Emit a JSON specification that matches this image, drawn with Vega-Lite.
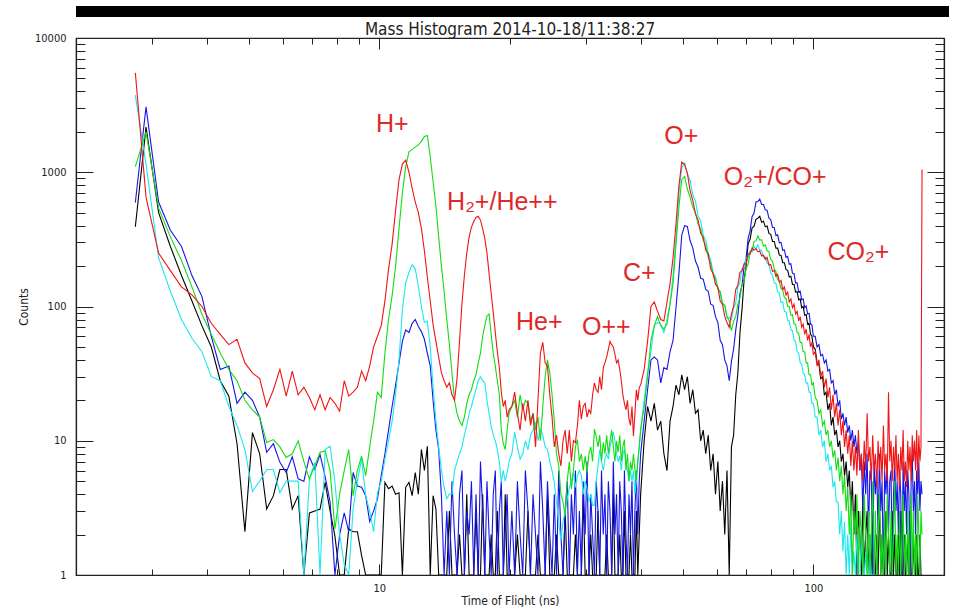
{
  "$schema": "https://vega.github.io/schema/vega-lite/v6.json",
  "background": "#ffffff",
  "padding": {"left": 16, "top": 6, "right": 0, "bottom": 0},
  "spacing": 3,
  "config": {
    "font": "DejaVu Sans Condensed",
    "view": {"stroke": "#222222", "strokeWidth": 1.2},
    "axis": {
      "grid": false,
      "domainColor": "#222222",
      "domainWidth": 1.2,
      "tickColor": "#222222",
      "tickWidth": 1,
      "labelColor": "#222222",
      "titleColor": "#222222",
      "labelFont": "DejaVu Sans Condensed",
      "titleFont": "DejaVu Sans Condensed",
      "titleFontWeight": "normal",
      "labelOverlap": false,
      "labelBound": false,
      "labelFlush": false
    },
    "title": {"font": "DejaVu Sans Condensed", "fontWeight": "normal", "color": "#222222"}
  },
  "datasets": {
    "tof": [
      {"t":2.74,"r":5500,"g":1100,"b":595,"k":393,"c":3750},
      {"t":2.9,"r":650,"g":2000,"b":3070,"k":2170,"c":1150},
      {"t":3.1,"r":250,"g":540,"b":600,"k":500,"c":230},
      {"t":3.3,"r":185,"g":330,"b":370,"k":280,"c":130},
      {"t":3.5,"r":140,"g":220,"b":280,"k":170,"c":80},
      {"t":3.7,"r":122,"g":140,"b":170,"k":110,"c":58},
      {"t":3.9,"r":100,"g":88,"b":119,"k":72,"c":46},
      {"t":4.1,"r":75,"g":62,"b":60,"k":50,"c":30},
      {"t":4.3,"r":62,"g":45,"b":34,"k":28,"c":28},
      {"t":4.5,"r":52,"g":34,"b":36,"k":21.5,"c":18},
      {"t":4.7,"r":57,"g":28,"b":19,"k":9.5,"c":13},
      {"t":4.9,"r":38,"g":20,"b":23,"k":2.1,"c":8.6},
      {"t":5.1,"r":32,"g":17,"b":20,"k":11.5,"c":4.2},
      {"t":5.3,"r":29,"g":15,"b":15,"k":8,"c":5},
      {"t":5.5,"r":18,"g":9.7,"b":8.2,"k":3.1,"c":6.1},
      {"t":5.7,"r":24,"g":10.2,"b":9.5,"k":3.9,"c":6.1},
      {"t":5.9,"r":34,"g":9,"b":6.9,"k":6.1,"c":4.1},
      {"t":6.1,"r":21.5,"g":7.5,"b":5.8,"k":6.1,"c":5},
      {"t":6.3,"r":33,"g":8,"b":7.6,"k":3.1,"c":5},
      {"t":6.5,"r":22,"g":10,"b":5.2,"k":3.9,"c":5},
      {"t":6.7,"r":25,"g":7,"b":5,"k":1,"c":1},
      {"t":6.9,"r":21,"g":5.2,"b":7.6,"k":2.9,"c":5.2},
      {"t":7.1,"r":17,"g":6.5,"b":6.1,"k":3,"c":6.9},
      {"t":7.3,"r":22,"g":8.2,"b":7.9,"k":3.1,"c":1},
      {"t":7.5,"r":17,"g":8.4,"b":5.4,"k":4.9,"c":8.6},
      {"t":7.7,"r":21,"g":6,"b":3.5,"k":3,"c":9.1},
      {"t":7.9,"r":19,"g":2.2,"b":1,"k":1.95,"c":4.9},
      {"t":8.1,"r":16.6,"g":4,"b":2,"k":1,"c":2},
      {"t":8.3,"r":28,"g":6,"b":2.9,"k":1,"c":1.2},
      {"t":8.5,"r":21.5,"g":8.6,"b":2.1,"k":2.2,"c":1},
      {"t":8.7,"r":23,"g":3.9,"b":5.8,"k":2.1,"c":3.1},
      {"t":8.9,"r":25,"g":6,"b":4.6,"k":2.1,"c":5},
      {"t":9.1,"r":33,"g":7.7,"b":4.5,"k":1.4,"c":7.3},
      {"t":9.3,"r":28,"g":5.5,"b":3.9,"k":1,"c":3.9},
      {"t":9.5,"r":36,"g":9,"b":2.5,"k":1,"c":3},
      {"t":9.7,"r":50,"g":14,"b":3,"k":1,"c":2.1},
      {"t":9.9,"r":60,"g":23,"b":3.7,"k":1,"c":4.1},
      {"t":10.1,"r":72,"g":21,"b":5.5,"k":1,"c":5},
      {"t":10.3,"r":110,"g":45,"b":8,"k":4.9,"c":7.3},
      {"t":10.5,"r":190,"g":80,"b":12,"k":4.4,"c":10},
      {"t":10.7,"r":290,"g":120,"b":18,"k":4.6,"c":14},
      {"t":10.9,"r":520,"g":200,"b":26,"k":4,"c":22},
      {"t":11.1,"r":880,"g":380,"b":38,"k":4.1,"c":40},
      {"t":11.3,"r":1150,"g":700,"b":55,"k":1,"c":95},
      {"t":11.5,"r":1230,"g":1100,"b":67,"k":4.5,"c":150},
      {"t":11.7,"r":1000,"g":1420,"b":64,"k":4.9,"c":180},
      {"t":11.9,"r":760,"g":1480,"b":75,"k":3.9,"c":205},
      {"t":12.1,"r":600,"g":1540,"b":80,"k":5.8,"c":190},
      {"t":12.3,"r":500,"g":1600,"b":71,"k":4,"c":141},
      {"t":12.5,"r":380,"g":1700,"b":65,"k":8.6,"c":100},
      {"t":12.7,"r":260,"g":1850,"b":57,"k":6,"c":76},
      {"t":12.9,"r":165,"g":1880,"b":45,"k":9.1,"c":78},
      {"t":13.1,"r":110,"g":1300,"b":36,"k":1,"c":50},
      {"t":13.3,"r":73,"g":850,"b":20,"k":3.9,"c":25},
      {"t":13.5,"r":55,"g":560,"b":12,"k":3.1,"c":14},
      {"t":13.7,"r":42,"g":330,"b":8.6,"k":1,"c":9},
      {"t":13.9,"r":32,"g":200,"b":3.9,"k":1,"c":6},
      {"t":14.1,"r":28,"g":130,"b":1,"k":1,"c":4.5},
      {"t":14.3,"r":25,"g":80,"b":3,"k":1,"c":3.7},
      {"t":14.5,"r":27,"g":52,"b":1,"k":3,"c":4},
      {"t":14.7,"r":22,"g":32,"b":5,"k":1,"c":4},
      {"t":14.9,"r":20,"g":20,"b":2,"k":1,"c":6},
      {"t":15.1,"r":29,"g":16,"b":1,"k":1,"c":7},
      {"t":15.3,"r":55,"g":14,"b":4,"k":2,"c":8},
      {"t":15.5,"r":105,"g":13,"b":6,"k":1,"c":9},
      {"t":15.7,"r":170,"g":15,"b":1,"k":1,"c":11},
      {"t":15.9,"r":250,"g":19,"b":3,"k":4,"c":13},
      {"t":16.1,"r":330,"g":22,"b":2,"k":1,"c":16},
      {"t":16.3,"r":390,"g":24,"b":5,"k":1,"c":18},
      {"t":16.5,"r":430,"g":28,"b":1,"k":1,"c":21},
      {"t":16.7,"r":460,"g":31,"b":4,"k":3,"c":24},
      {"t":16.9,"r":470,"g":38,"b":1,"k":1,"c":28},
      {"t":17.1,"r":440,"g":45,"b":7,"k":1,"c":30},
      {"t":17.3,"r":380,"g":60,"b":3,"k":4,"c":28},
      {"t":17.5,"r":320,"g":72,"b":1,"k":1,"c":27},
      {"t":17.7,"r":250,"g":85,"b":5,"k":1,"c":20},
      {"t":17.9,"r":175,"g":88,"b":2,"k":1,"c":16},
      {"t":18.1,"r":125,"g":62,"b":1,"k":2,"c":12.8},
      {"t":18.3,"r":90,"g":45,"b":4,"k":1,"c":11},
      {"t":18.5,"r":64,"g":36,"b":6,"k":1,"c":10},
      {"t":18.7,"r":46,"g":28,"b":1,"k":3,"c":8.6},
      {"t":18.9,"r":35,"g":22,"b":3,"k":1,"c":7},
      {"t":19.1,"r":23,"g":12,"b":5,"k":1,"c":4.9},
      {"t":19.3,"r":18,"g":9.5,"b":1,"k":1,"c":6},
      {"t":19.5,"r":20,"g":8.6,"b":2,"k":4,"c":5},
      {"t":19.7,"r":15,"g":12,"b":4,"k":1,"c":5.8},
      {"t":19.9,"r":17,"g":16,"b":1,"k":1,"c":7},
      {"t":20.2,"r":18,"g":18,"b":3,"k":1,"c":8},
      {"t":20.5,"r":23,"g":20,"b":1,"k":1,"c":11.6},
      {"t":20.8,"r":16,"g":15,"b":5,"k":2,"c":9},
      {"t":21.1,"r":12,"g":22,"b":2,"k":1,"c":7.3},
      {"t":21.4,"r":19,"g":17,"b":1,"k":1,"c":8},
      {"t":21.7,"r":14,"g":20,"b":6,"k":1,"c":10},
      {"t":22.0,"r":20,"g":19,"b":3,"k":3,"c":8.6},
      {"t":22.3,"r":13,"g":14,"b":1,"k":1,"c":11},
      {"t":22.6,"r":16,"g":16,"b":4,"k":1,"c":12},
      {"t":22.9,"r":9,"g":12,"b":2,"k":1,"c":13.7},
      {"t":23.2,"r":20,"g":15,"b":1,"k":2,"c":10},
      {"t":23.5,"r":45,"g":10,"b":7,"k":1,"c":12.2},
      {"t":23.8,"r":54,"g":18,"b":3,"k":1,"c":11},
      {"t":24.1,"r":38,"g":30,"b":1,"k":1,"c":9},
      {"t":24.4,"r":36,"g":40,"b":5,"k":4,"c":8.6},
      {"t":24.7,"r":22,"g":32,"b":2,"k":1,"c":7},
      {"t":25.0,"r":15,"g":22,"b":1,"k":1,"c":6},
      {"t":25.3,"r":9,"g":14,"b":4,"k":1,"c":4.9},
      {"t":25.6,"r":11,"g":8,"b":1,"k":2,"c":3.5},
      {"t":25.9,"r":8,"g":6.5,"b":6,"k":1,"c":2.5},
      {"t":26.2,"r":6.5,"g":4,"b":2,"k":1,"c":1.8},
      {"t":26.5,"r":10,"g":3.5,"b":1,"k":1,"c":2.5},
      {"t":26.8,"r":12,"g":2.75,"b":3,"k":3,"c":3},
      {"t":27.1,"r":8,"g":5,"b":5,"k":1,"c":3.7},
      {"t":27.4,"r":12,"g":7,"b":1,"k":1,"c":4.5},
      {"t":27.7,"r":7,"g":4.4,"b":4,"k":1,"c":5},
      {"t":28.0,"r":10,"g":6,"b":2,"k":1,"c":5.8},
      {"t":28.3,"r":9.7,"g":9,"b":6,"k":2,"c":4.5},
      {"t":28.6,"r":13,"g":10.2,"b":1,"k":1,"c":5.5},
      {"t":28.9,"r":20,"g":7,"b":3,"k":1,"c":6},
      {"t":29.2,"r":14.5,"g":8,"b":1,"k":1,"c":5.5},
      {"t":29.5,"r":18,"g":6,"b":5,"k":4,"c":4},
      {"t":29.8,"r":19,"g":7.7,"b":2,"k":1,"c":5},
      {"t":30.1,"r":15,"g":5.8,"b":7,"k":1,"c":4.4},
      {"t":30.4,"r":17,"g":8,"b":1,"k":1,"c":3.5},
      {"t":30.7,"r":16,"g":9,"b":4,"k":2,"c":4},
      {"t":31.0,"r":22,"g":7,"b":2,"k":1,"c":3.3},
      {"t":31.3,"r":27,"g":12.2,"b":1,"k":1,"c":3.3},
      {"t":31.6,"r":24,"g":10.8,"b":5,"k":1,"c":5},
      {"t":31.9,"r":23,"g":9,"b":3,"k":3,"c":6.5},
      {"t":32.2,"r":30,"g":11,"b":1,"k":1,"c":8.6},
      {"t":32.5,"r":24,"g":7,"b":6,"k":1,"c":7},
      {"t":32.8,"r":35,"g":9.7,"b":2,"k":1,"c":6},
      {"t":33.1,"r":38,"g":8,"b":4,"k":1,"c":7.3},
      {"t":33.4,"r":42,"g":11,"b":1,"k":2,"c":8},
      {"t":33.7,"r":48,"g":8,"b":5,"k":1,"c":7.3},
      {"t":34.0,"r":55,"g":10,"b":3,"k":1,"c":9},
      {"t":34.3,"r":52,"g":12,"b":1,"k":1,"c":10},
      {"t":34.6,"r":50,"g":9,"b":7,"k":4,"c":11.6},
      {"t":34.9,"r":44,"g":7,"b":2,"k":1,"c":10},
      {"t":35.2,"r":38,"g":10,"b":4,"k":1,"c":8},
      {"t":35.5,"r":40,"g":8.2,"b":1,"k":1,"c":7},
      {"t":35.8,"r":34,"g":11,"b":5,"k":2,"c":7.7},
      {"t":36.1,"r":28,"g":7,"b":3,"k":1,"c":6},
      {"t":36.4,"r":22,"g":9,"b":1,"k":1,"c":8},
      {"t":36.7,"r":19,"g":10.2,"b":6,"k":3,"c":8.6},
      {"t":37.0,"r":17,"g":6,"b":2,"k":1,"c":7},
      {"t":37.3,"r":20,"g":8,"b":1,"k":1,"c":6},
      {"t":37.6,"r":14.5,"g":5,"b":4,"k":1,"c":5},
      {"t":37.9,"r":13,"g":7,"b":2,"k":2,"c":6},
      {"t":38.2,"r":18,"g":6,"b":5,"k":1,"c":5},
      {"t":38.5,"r":10.8,"g":8,"b":1,"k":1,"c":6},
      {"t":38.8,"r":16,"g":6.1,"b":3,"k":1,"c":4},
      {"t":39.1,"r":24,"g":5,"b":6,"k":3,"c":5},
      {"t":39.4,"r":20,"g":7,"b":2,"k":1,"c":7},
      {"t":39.7,"r":25,"g":9,"b":5,"k":2,"c":9},
      {"t":40.0,"r":26,"g":12,"b":8,"k":4,"c":12},
      {"t":40.75,"r":34,"g":18,"b":14,"k":10,"c":20},
      {"t":41.5,"r":55,"g":30,"b":24,"k":18,"c":32},
      {"t":42.25,"r":100,"g":56,"b":40,"k":14,"c":46},
      {"t":43.0,"r":108,"g":72,"b":42,"k":19,"c":72},
      {"t":43.75,"r":92,"g":84,"b":40,"k":12,"c":76},
      {"t":44.5,"r":80,"g":72,"b":27,"k":14,"c":74},
      {"t":45.25,"r":78,"g":68,"b":35,"k":8,"c":64},
      {"t":46.0,"r":108,"g":74,"b":34,"k":6,"c":80},
      {"t":46.75,"r":148,"g":104,"b":46,"k":14,"c":106},
      {"t":47.5,"r":230,"g":148,"b":56,"k":18,"c":170},
      {"t":48.25,"r":410,"g":290,"b":98,"k":26,"c":320},
      {"t":49.0,"r":790,"g":550,"b":175,"k":22,"c":700},
      {"t":49.75,"r":1190,"g":880,"b":340,"k":31,"c":1080},
      {"t":50.5,"r":1140,"g":930,"b":400,"k":24,"c":1170},
      {"t":51.25,"r":980,"g":750,"b":395,"k":30,"c":980},
      {"t":52.0,"r":730,"g":650,"b":310,"k":19,"c":870},
      {"t":52.75,"r":615,"g":550,"b":272,"k":24,"c":680},
      {"t":53.5,"r":490,"g":500,"b":218,"k":16,"c":610},
      {"t":54.25,"r":440,"g":410,"b":196,"k":17,"c":470},
      {"t":55.0,"r":350,"g":380,"b":162,"k":10,"c":435},
      {"t":55.75,"r":330,"g":310,"b":160,"k":12,"c":340},
      {"t":56.5,"r":262,"g":285,"b":134,"k":8,"c":310},
      {"t":57.25,"r":248,"g":232,"b":130,"k":11,"c":250},
      {"t":58.0,"r":190,"g":210,"b":104,"k":6,"c":222},
      {"t":58.75,"r":176,"g":174,"b":102,"k":8,"c":178},
      {"t":59.5,"r":146,"g":162,"b":84,"k":4,"c":166},
      {"t":60.25,"r":140,"g":134,"b":76,"k":7,"c":136},
      {"t":61.0,"r":110,"g":128,"b":56,"k":3,"c":130},
      {"t":61.75,"r":104,"g":106,"b":52,"k":5,"c":104},
      {"t":62.5,"r":84,"g":102,"b":40,"k":2,"c":102},
      {"t":63.25,"r":76,"g":84,"b":36,"k":6,"c":82},
      {"t":64.0,"r":70,"g":78,"b":28,"k":1,"c":83},
      {"t":64.75,"r":88,"g":66,"b":39,"k":9,"c":80},
      {"t":65.5,"r":100,"g":78,"b":48,"k":11,"c":98},
      {"t":66.25,"r":134,"g":84,"b":67,"k":22,"c":106},
      {"t":67.0,"r":144,"g":104,"b":86,"k":32,"c":140},
      {"t":67.75,"r":180,"g":116,"b":125,"k":64,"c":152},
      {"t":68.5,"r":184,"g":146,"b":144,"k":96,"c":192},
      {"t":69.25,"r":208,"g":154,"b":198,"k":158,"c":196},
      {"t":70.0,"r":206,"g":192,"b":230,"k":200,"c":232},
      {"t":70.75,"r":248,"g":206,"b":322,"k":292,"c":230},
      {"t":71.5,"r":246,"g":254,"b":368,"k":318,"c":262},
      {"t":72.25,"r":272,"g":262,"b":468,"k":385,"c":255},
      {"t":73.0,"r":262,"g":305,"b":495,"k":395,"c":280},
      {"t":73.75,"r":270,"g":308,"b":600,"k":445,"c":268},
      {"t":74.5,"r":256,"g":335,"b":605,"k":455,"c":288},
      {"t":75.25,"r":258,"g":312,"b":630,"k":470,"c":262},
      {"t":76.0,"r":238,"g":315,"b":575,"k":425,"c":262},
      {"t":76.75,"r":242,"g":282,"b":575,"k":432,"c":232},
      {"t":77.5,"r":224,"g":288,"b":525,"k":392,"c":235},
      {"t":78.25,"r":232,"g":260,"b":520,"k":398,"c":210},
      {"t":79.0,"r":204,"g":256,"b":455,"k":350,"c":206},
      {"t":79.75,"r":206,"g":224,"b":445,"k":345,"c":176},
      {"t":80.5,"r":182,"g":218,"b":388,"k":305,"c":172},
      {"t":81.25,"r":186,"g":190,"b":388,"k":305,"c":150},
      {"t":82.0,"r":168,"g":182,"b":338,"k":272,"c":148},
      {"t":82.75,"r":174,"g":158,"b":342,"k":272,"c":128},
      {"t":83.5,"r":152,"g":154,"b":298,"k":242,"c":126},
      {"t":84.25,"r":156,"g":136,"b":300,"k":240,"c":107},
      {"t":85.0,"r":134,"g":133,"b":262,"k":212,"c":108},
      {"t":85.75,"r":140,"g":116,"b":264,"k":212,"c":92},
      {"t":86.5,"r":122,"g":115,"b":232,"k":188,"c":91},
      {"t":87.25,"r":128,"g":100,"b":236,"k":186,"c":79},
      {"t":88.0,"r":108,"g":100,"b":206,"k":166,"c":78},
      {"t":88.75,"r":114,"g":86,"b":208,"k":168,"c":67},
      {"t":89.5,"r":98,"g":87,"b":177,"k":146,"c":66},
      {"t":90.25,"r":104,"g":74,"b":176,"k":146,"c":56},
      {"t":91.0,"r":88,"g":74,"b":150,"k":128,"c":55},
      {"t":91.75,"r":92,"g":64,"b":150,"k":129,"c":46},
      {"t":92.5,"r":78,"g":63,"b":128,"k":112,"c":45},
      {"t":93.25,"r":84,"g":54,"b":130,"k":114,"c":38},
      {"t":94.0,"r":70,"g":54,"b":112,"k":98,"c":37},
      {"t":94.75,"r":74,"g":46,"b":114,"k":100,"c":32},
      {"t":95.5,"r":62,"g":46,"b":98,"k":86,"c":31},
      {"t":96.25,"r":68,"g":38,"b":101,"k":87,"c":27},
      {"t":97.0,"r":56,"g":38,"b":88,"k":74,"c":27},
      {"t":97.75,"r":62,"g":31,"b":89,"k":75,"c":23},
      {"t":98.5,"r":50,"g":31,"b":74,"k":62,"c":23},
      {"t":99.25,"r":54,"g":26,"b":73,"k":60,"c":19},
      {"t":100.0,"r":44,"g":27,"b":60,"k":50,"c":19},
      {"t":101,"r":46,"g":21,"b":60,"k":48,"c":15},
      {"t":102,"r":36,"g":20,"b":50,"k":38,"c":15},
      {"t":103,"r":40,"g":16,"b":52,"k":37,"c":11},
      {"t":104,"r":30,"g":17,"b":43,"k":29,"c":12},
      {"t":105,"r":33,"g":13,"b":44,"k":30,"c":9},
      {"t":106,"r":25,"g":14,"b":38,"k":22,"c":10},
      {"t":107,"r":29,"g":11,"b":40,"k":23,"c":7},
      {"t":108,"r":21,"g":12,"b":33,"k":17,"c":8},
      {"t":109,"r":25,"g":9,"b":34,"k":19,"c":6},
      {"t":110,"r":17,"g":10,"b":27,"k":13,"c":6.5},
      {"t":111,"r":22,"g":7.5,"b":28,"k":15,"c":4.5},
      {"t":112,"r":15,"g":8.5,"b":22,"k":11,"c":5},
      {"t":113,"r":19,"g":6,"b":24,"k":12,"c":3.5},
      {"t":114,"r":13,"g":7.5,"b":18,"k":9,"c":3.5},
      {"t":115,"r":17,"g":5,"b":20,"k":10,"c":2},
      {"t":116,"r":11,"g":6.5,"b":14.5,"k":7,"c":3},
      {"t":117,"r":14,"g":4,"b":16,"k":8,"c":1.5},
      {"t":118,"r":9,"g":5.5,"b":13,"k":5.5,"c":2.5},
      {"t":119,"r":12,"g":3,"b":15,"k":7,"c":1},
      {"t":120,"r":8,"g":4.5,"b":11.5,"k":4.5,"c":2},
      {"t":121,"r":11,"g":2,"b":13,"k":6,"c":1},
      {"t":122,"r":6.5,"g":4,"b":10,"k":3,"c":2.5},
      {"t":123,"r":10,"g":1,"b":12,"k":5,"c":1},
      {"t":124,"r":6,"g":3,"b":9,"k":2,"c":1.5},
      {"t":125,"r":9,"g":2,"b":11,"k":4,"c":1},
      {"t":126,"r":5.5,"g":4,"b":8,"k":1,"c":2},
      {"t":127,"r":12,"g":1,"b":10,"k":3,"c":1},
      {"t":128,"r":6,"g":3,"b":6,"k":2,"c":1},
      {"t":129,"r":8,"g":2,"b":8,"k":1,"c":2},
      {"t":130,"r":5,"g":1,"b":3,"k":4,"c":1},
      {"t":131,"r":10,"g":4,"b":7,"k":1,"c":1},
      {"t":132,"r":6,"g":2,"b":4,"k":2,"c":1.5},
      {"t":133,"r":16,"g":1,"b":8,"k":3,"c":1},
      {"t":134,"r":7,"g":3,"b":2,"k":1,"c":1},
      {"t":135,"r":9,"g":1,"b":6,"k":2,"c":2},
      {"t":136,"r":5,"g":2,"b":5,"k":1,"c":1},
      {"t":137,"r":11,"g":5,"b":1,"k":3,"c":1},
      {"t":138,"r":6,"g":1,"b":7,"k":1,"c":1},
      {"t":139,"r":8,"g":3,"b":4,"k":1,"c":1},
      {"t":140,"r":4.5,"g":1,"b":6,"k":2,"c":1},
      {"t":141,"r":10,"g":2,"b":2,"k":1},
      {"t":142,"r":6,"g":4,"b":8,"k":4},
      {"t":143,"r":9,"g":1,"b":3,"k":1},
      {"t":144,"r":5,"g":2,"b":5,"k":2},
      {"t":145,"r":13,"g":1,"b":1,"k":1},
      {"t":146,"r":6,"g":3,"b":6,"k":1},
      {"t":147,"r":8,"g":1,"b":4,"k":3},
      {"t":148,"r":5,"g":4,"b":7,"k":1},
      {"t":149,"r":23,"g":2,"b":2,"k":2},
      {"t":150,"r":7,"g":1,"b":5,"k":1},
      {"t":151,"r":10,"g":3,"b":6,"k":1},
      {"t":152,"r":5,"g":1,"b":1,"k":3},
      {"t":153,"r":9,"g":2,"b":4,"k":1},
      {"t":154,"r":6,"g":5,"b":7,"k":2},
      {"t":155,"r":11,"g":1,"b":3,"k":1},
      {"t":156,"r":5,"g":2,"b":5,"k":1},
      {"t":157,"r":8,"g":1,"b":2,"k":2},
      {"t":158,"r":4.5,"g":3,"b":6,"k":1},
      {"t":159,"r":9,"g":1,"b":4,"k":3},
      {"t":160,"r":6,"g":2,"b":1,"k":1},
      {"t":161,"r":12,"g":4,"b":7,"k":1},
      {"t":162,"r":5,"g":1,"b":3,"k":2},
      {"t":163,"r":7,"g":2,"b":5,"k":1},
      {"t":164,"r":4.5,"g":1,"b":2,"k":1},
      {"t":165,"r":10,"g":3,"b":6,"k":2},
      {"t":166,"r":6,"g":1,"b":4,"k":1},
      {"t":167,"r":9,"g":2,"b":1,"k":3},
      {"t":168,"r":5,"g":4,"b":5,"k":1},
      {"t":169,"r":11,"g":1,"b":8,"k":1},
      {"t":170,"r":7,"g":3,"b":3,"k":2},
      {"t":171,"r":10,"g":1,"b":5,"k":1},
      {"t":172,"r":6,"g":2,"b":2,"k":1},
      {"t":173,"r":12,"g":1,"b":6,"k":2},
      {"t":174,"r":5,"g":4,"b":4,"k":1},
      {"t":175,"r":11,"g":2,"b":7,"k":1},
      {"t":176,"r":7,"g":1,"b":3,"k":2},
      {"t":177,"r":9,"g":3,"b":5,"k":1},
      {"t":178,"r":1050,"g":2,"b":4,"k":1}
    ],
    "ions": [
      {"t":10.71,"c":2290,"txt":"H+"},
      {"t":19.2,"c":600,"txt":"H₂+/He++"},
      {"t":23.37,"c":76.6,"txt":"He+"},
      {"t":33.35,"c":70.4,"txt":"O++"},
      {"t":39.7,"c":177.6,"txt":"C+"},
      {"t":49.65,"c":1862,"txt":"O+"},
      {"t":81.7,"c":922,"txt":"O₂+/CO+"},
      {"t":127,"c":254.7,"txt":"CO₂+"}
    ]
  },
  "vconcat": [
    {
      "width": 873,
      "height": 11,
      "view": {"fill": "#000000", "stroke": null},
      "data": {"values": []},
      "mark": "rect"
    },
    {
      "width": 868,
      "height": 537,
      "title": {"text": "Mass Histogram 2014-10-18/11:38:27", "fontSize": 17, "offset": -7},
      "layer": [
        {
          "data": {"name": "tof"},
          "transform": [
            {"fold": ["k", "b", "c", "g", "r"], "as": ["s", "n"]},
            {"filter": "isValid(datum.n)"}
          ],
          "encoding": {
            "x": {
              "field": "t",
              "type": "quantitative",
              "scale": {"type": "log", "domain": [2, 200], "nice": false},
              "axis": {
                "orient": "bottom",
                "values": [3, 4, 5, 6, 7, 8, 9, 10, 20, 30, 40, 50, 60, 70, 80, 90, 100],
                "format": "d",
                "labelExpr": "datum.value == 10 || datum.value == 100 ? datum.label : ''",
                "tickSize": {"condition": {"test": "datum.value == 10 || datum.value == 100", "value": -11}, "value": -6},
                "labelFontSize": 11,
                "labelPadding": 18,
                "title": "Time of Flight (ns)",
                "titleFontSize": 12,
                "titlePadding": -3
              }
            },
            "y": {
              "field": "n",
              "type": "quantitative",
              "scale": {"type": "log", "domain": [1, 10000], "nice": false},
              "axis": {
                "orient": "left",
                "values": [1, 2, 3, 4, 5, 6, 7, 8, 9, 10, 20, 30, 40, 50, 60, 70, 80, 90, 100, 200, 300, 400, 500, 600, 700, 800, 900, 1000, 2000, 3000, 4000, 5000, 6000, 7000, 8000, 9000, 10000],
                "format": "d",
                "labelExpr": "datum.value == 1 || datum.value == 10 || datum.value == 100 || datum.value == 1000 || datum.value == 10000 ? datum.label : ''",
                "tickSize": {"condition": {"test": "datum.value == 1 || datum.value == 10 || datum.value == 100 || datum.value == 1000 || datum.value == 10000", "value": -17}, "value": -9},
                "labelFontSize": 11,
                "labelPadding": 27,
                "title": "Counts",
                "titleFontSize": 12,
                "titlePadding": 4
              }
            }
          },
          "layer": [
            {"transform": [{"filter": "datum.s === 'k'"}], "mark": {"type": "line", "color": "#000000", "strokeWidth": 1.1, "clip": true}},
            {"transform": [{"filter": "datum.s === 'b'"}], "mark": {"type": "line", "color": "#1515e6", "strokeWidth": 1.1, "clip": true}},
            {"transform": [{"filter": "datum.s === 'c'"}], "mark": {"type": "line", "color": "#1ee6ee", "strokeWidth": 1.1, "clip": true}},
            {"transform": [{"filter": "datum.s === 'g'"}], "mark": {"type": "line", "color": "#14dc14", "strokeWidth": 1.1, "clip": true}},
            {"transform": [{"filter": "datum.s === 'r'"}], "mark": {"type": "line", "color": "#f01414", "strokeWidth": 1.1, "clip": true}}
          ]
        },
        {
          "data": {"name": "ions"},
          "mark": {"type": "text", "font": "Liberation Sans", "fontSize": 25, "color": "#e02828", "align": "center", "baseline": "middle"},
          "encoding": {
            "x": {
              "field": "t",
              "type": "quantitative",
              "scale": {"type": "log", "domain": [2, 200], "nice": false},
              "axis": {
                "orient": "top",
                "values": [3, 4, 5, 6, 7, 8, 9, 10, 20, 30, 40, 50, 60, 70, 80, 90, 100],
                "labels": false,
                "title": null,
                "tickSize": {"condition": {"test": "datum.value == 10 || datum.value == 100", "value": -11}, "value": -6}
              }
            },
            "y": {
              "field": "c",
              "type": "quantitative",
              "scale": {"type": "log", "domain": [1, 10000], "nice": false},
              "axis": {
                "orient": "right",
                "values": [1, 2, 3, 4, 5, 6, 7, 8, 9, 10, 20, 30, 40, 50, 60, 70, 80, 90, 100, 200, 300, 400, 500, 600, 700, 800, 900, 1000, 2000, 3000, 4000, 5000, 6000, 7000, 8000, 9000, 10000],
                "labels": false,
                "title": null,
                "tickSize": {"condition": {"test": "datum.value == 1 || datum.value == 10 || datum.value == 100 || datum.value == 1000 || datum.value == 10000", "value": -17}, "value": -9}
              }
            },
            "text": {"field": "txt"}
          }
        }
      ],
      "resolve": {"axis": {"x": "independent", "y": "independent"}}
    }
  ]
}
